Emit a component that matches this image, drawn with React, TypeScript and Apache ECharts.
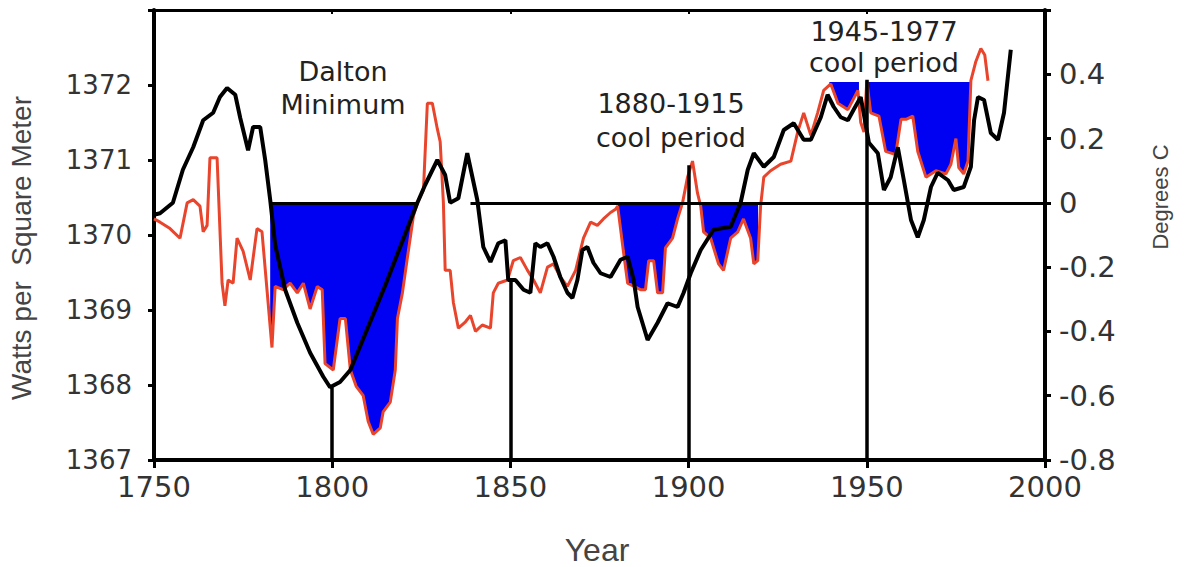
import React, { useEffect, useRef } from 'react';
import * as echarts from 'echarts';

// Red trace: Degrees C (right axis)
const redYears = [
  1750.0, 1751.7, 1754.5, 1757.3, 1759.3, 1761.0, 1762.9, 1763.8, 1764.9, 1765.7, 1767.7, 1769.1, 1769.9, 1770.8,
  1772.2, 1773.3, 1775.0, 1777.0, 1778.9, 1780.3, 1781.7, 1783.1, 1784.0, 1786.2, 1788.2, 1790.2, 1791.9, 1793.8,
  1795.8, 1797.2, 1798.0, 1800.3, 1802.2, 1803.7, 1805.1, 1806.7, 1808.7, 1810.1, 1811.5, 1813.5, 1814.3, 1816.3,
  1817.7, 1818.3, 1819.7, 1821.1, 1822.8, 1823.9, 1825.6, 1826.7, 1828.1, 1829.5, 1830.3, 1831.2, 1831.7, 1833.1,
  1834.0, 1835.4, 1837.4, 1838.8, 1840.2, 1842.1, 1844.4, 1845.2, 1846.6, 1849.2, 1850.8, 1852.8, 1854.8, 1856.5,
  1858.4, 1860.4, 1862.1, 1864.0, 1866.0, 1868.3, 1870.5, 1872.5, 1874.4, 1876.1, 1878.1, 1879.5, 1880.1, 1881.7,
  1882.9, 1886.5, 1887.9, 1888.8, 1890.2, 1891.3, 1892.7, 1893.5, 1895.5, 1896.9, 1898.3, 1899.7, 1901.1, 1902.5,
  1903.4, 1904.2, 1906.2, 1908.4, 1909.8, 1911.8, 1913.8, 1915.4, 1917.4, 1918.3, 1919.4, 1920.2, 1921.1, 1923.0,
  1925.8, 1928.7, 1930.6, 1932.3, 1934.3, 1936.2, 1937.9, 1939.9, 1941.9, 1944.7, 1947.5, 1948.3, 1949.2, 1950.0,
  1951.1, 1953.4, 1955.3, 1958.1, 1959.6, 1961.0, 1962.9, 1964.3, 1966.6, 1969.4, 1972.2, 1973.6, 1975.0, 1975.8,
  1977.2, 1978.4, 1979.2, 1980.6, 1982.0, 1983.1, 1984.0,
];
const redTemps = [
  -0.05, -0.06, -0.08, -0.11, 0.0, 0.01, -0.01, -0.09, -0.07, 0.14, 0.14, -0.25, -0.32, -0.24,
  -0.25, -0.11, -0.15, -0.24, -0.08, -0.09, -0.27, -0.45, -0.26, -0.27, -0.25, -0.28, -0.25, -0.33,
  -0.26, -0.27, -0.5, -0.52, -0.36, -0.36, -0.52, -0.57, -0.6, -0.68, -0.72, -0.7, -0.65, -0.62,
  -0.52, -0.36, -0.28, -0.17, -0.04, 0.0, 0.04, 0.31, 0.31, 0.23, 0.19, 0.0, -0.21, -0.21,
  -0.31, -0.39, -0.37, -0.35, -0.4, -0.38, -0.39, -0.28, -0.25, -0.24, -0.18, -0.17, -0.21, -0.24,
  -0.28, -0.2, -0.19, -0.23, -0.26, -0.21, -0.11, -0.06, -0.07, -0.05, -0.03, -0.02, -0.01, -0.15,
  -0.25, -0.27, -0.27, -0.18, -0.18, -0.28, -0.28, -0.14, -0.11, -0.05, 0.0, 0.08, 0.13, 0.03,
  -0.01, -0.09, -0.11, -0.19, -0.21, -0.11, -0.09, -0.05, -0.11, -0.19, -0.18, -0.01, 0.08, 0.1,
  0.12, 0.13, 0.22, 0.28, 0.21, 0.28, 0.35, 0.37, 0.31, 0.29, 0.35, 0.25, 0.22, 0.38,
  0.28, 0.27, 0.16, 0.15, 0.26, 0.26, 0.27, 0.16, 0.08, 0.1, 0.09, 0.12, 0.2, 0.11,
  0.09, 0.13, 0.38, 0.44, 0.48, 0.46, 0.38,
];

// Black trace: Watts per Square Meter (left axis)
const blackYears = [
  1750.0, 1751.7, 1755.3, 1758.1, 1761.0, 1763.8, 1766.6, 1768.5, 1770.5, 1772.8, 1774.2, 1776.4, 1777.8, 1779.8,
  1781.2, 1782.6, 1784.0, 1786.8, 1790.2, 1793.8, 1797.5, 1799.4, 1802.2, 1805.1, 1814.9, 1823.9, 1826.1, 1829.5,
  1831.7, 1833.1, 1835.4, 1837.9, 1840.7, 1842.4, 1844.4, 1846.6, 1848.6, 1849.4, 1851.4, 1853.7, 1855.6, 1857.0,
  1858.4, 1860.4, 1862.1, 1864.0, 1866.0, 1867.4, 1868.8, 1870.2, 1871.6, 1873.3, 1875.3, 1878.1, 1880.9, 1882.9,
  1884.6, 1885.7, 1888.5, 1891.3, 1894.1, 1896.9, 1898.6, 1900.6, 1903.4, 1907.0, 1911.8, 1914.6, 1916.6, 1918.3,
  1921.1, 1923.9, 1926.7, 1929.5, 1932.3, 1934.3, 1937.1, 1939.0, 1940.7, 1942.7, 1944.7, 1946.3, 1948.3, 1950.6,
  1953.1, 1954.8, 1956.7, 1958.7, 1960.4, 1962.4, 1964.3, 1966.0, 1968.0, 1969.9, 1972.8, 1974.4, 1977.2, 1979.2,
  1980.1, 1981.2, 1982.9, 1984.8, 1986.8, 1988.5, 1990.4,
];
const blackWatts = [
  1370.27, 1370.29, 1370.43, 1370.87, 1371.17, 1371.53, 1371.63, 1371.84, 1371.96, 1371.87, 1371.56, 1371.13, 1371.44, 1371.44,
  1371.0, 1370.47, 1369.87, 1369.27, 1368.83, 1368.43, 1368.11, 1367.97, 1368.04, 1368.2, 1369.33, 1370.43, 1370.67, 1371.0,
  1370.8, 1370.43, 1370.49, 1371.09, 1370.47, 1369.84, 1369.64, 1369.89, 1369.93, 1369.4, 1369.4, 1369.27, 1369.23, 1369.89,
  1369.84, 1369.89, 1369.71, 1369.44, 1369.23, 1369.16, 1369.4, 1369.8, 1369.84, 1369.63, 1369.49, 1369.44, 1369.67, 1369.71,
  1369.4, 1369.04, 1368.6, 1368.83, 1369.09, 1369.04, 1369.23, 1369.49, 1369.8, 1370.07, 1370.11, 1370.43, 1370.87, 1371.09,
  1370.91, 1371.04, 1371.4, 1371.49, 1371.27, 1371.27, 1371.57, 1371.87, 1371.71, 1371.57, 1371.53, 1371.67, 1371.84, 1371.23,
  1371.09, 1370.6, 1370.77, 1371.17, 1370.73, 1370.2, 1369.97, 1370.2, 1370.64, 1370.83, 1370.73, 1370.6, 1370.64, 1370.91,
  1371.53, 1371.84, 1371.8, 1371.36, 1371.27, 1371.63, 1372.47,
];

// Shaded cool periods: [start year, end year, reference level in Degrees C]
const coolPeriods = [
  [1782.6, 1823.9, 0],
  [1880.1, 1919.5, 0],
  [1939.5, 1947.8, 0.376],
  [1950.0, 1979.2, 0.376],
];
// Segments of the 0 °C reference line
const zeroSegments = [
  [1782.6, 1823.9],
  [1838.8, 2000],
];
// Vertical marker lines: year and the W/m² value they reach
const markerYears = [1800, 1850, 1900, 1950];
const markerTops = [1367.97, 1369.4, 1370.93, 1372.07];

const leftTicks = { min: 1367, max: 1373, interval: 1 };
const rightTicks = { min: -0.8, max: 0.6, interval: 0.2 };
const yearTicks = { min: 1750, max: 2000, interval: 50 };

function redAt(year: number): number {
  for (let i = 0; i < redYears.length - 1; i++) {
    if (year >= redYears[i] && year <= redYears[i + 1]) {
      const t = (year - redYears[i]) / (redYears[i + 1] - redYears[i]);
      return redTemps[i] + t * (redTemps[i + 1] - redTemps[i]);
    }
  }
  return redTemps[redTemps.length - 1];
}

export default function App() {
  const ref = useRef<HTMLDivElement>(null);
  useEffect(() => {
    if (!ref.current) return;
    const chart = echarts.init(ref.current, undefined, { renderer: 'svg' });
    const labelFont = 'DejaVu Sans';
    const nameFont = 'Liberation Sans';
    const option: any = {
      animation: false,
      backgroundColor: '#ffffff',
      grid: { left: 154, right: 148, top: 10, bottom: 107, containLabel: false },
      xAxis: [
        {
          type: 'value',
          position: 'bottom',
          min: yearTicks.min,
          max: yearTicks.max,
          interval: yearTicks.interval,
          splitLine: { show: false },
          axisLine: { show: true, onZero: false, lineStyle: { color: '#000', width: 4 } },
          axisTick: { show: true, length: 8, lineStyle: { color: '#000', width: 3 } },
          axisLabel: { color: '#333', fontFamily: labelFont, fontSize: 29, margin: 12, formatter: (v: number) => String(v) },
        },
        {
          type: 'value',
          position: 'top',
          min: yearTicks.min,
          max: yearTicks.max,
          interval: yearTicks.interval,
          splitLine: { show: false },
          axisLine: { show: true, onZero: false, lineStyle: { color: '#000', width: 3 } },
          axisTick: { show: true, inside: true, length: 4, lineStyle: { color: '#000', width: 2 } },
          axisLabel: { show: false },
        },
      ],
      yAxis: [
        {
          type: 'value',
          position: 'left',
          min: leftTicks.min,
          max: leftTicks.max,
          interval: leftTicks.interval,
          splitLine: { show: false },
          axisLine: { show: true, onZero: false, lineStyle: { color: '#000', width: 4 } },
          axisTick: { show: true, length: 6, lineStyle: { color: '#000', width: 3 } },
          axisLabel: {
            color: '#333',
            fontFamily: labelFont,
            fontSize: 26,
            margin: 22,
            formatter: (v: number) => (v >= leftTicks.max ? '' : String(v)),
          },
        },
        {
          type: 'value',
          position: 'right',
          min: rightTicks.min,
          max: rightTicks.max,
          interval: rightTicks.interval,
          splitLine: { show: false },
          axisLine: { show: true, onZero: false, lineStyle: { color: '#000', width: 4 } },
          axisTick: { show: true, length: 6, lineStyle: { color: '#000', width: 3 } },
          axisLabel: {
            color: '#333',
            fontFamily: labelFont,
            fontSize: 29,
            margin: 14,
            formatter: (v: number) => {
              if (v > rightTicks.max - 0.05) return '';
              if (Math.abs(v) < 1e-9) return '0';
              return v.toFixed(1);
            },
          },
        },
      ],
      series: [
        {
          type: 'custom',
          name: 'cool periods',
          xAxisIndex: 0,
          yAxisIndex: 1,
          z: 1,
          silent: true,
          data: coolPeriods.map((p) => [p[0], p[1], p[2]]),
          encode: { x: [0, 1], y: 2 },
          renderItem: (params: any, api: any) => {
            const [x0, x1, level] = coolPeriods[params.dataIndex];
            const pts: number[][] = [];
            pts.push(api.coord([x0, level]));
            pts.push(api.coord([x0, Math.min(redAt(x0), level)]));
            redYears.forEach((yr, i) => {
              if (yr > x0 && yr < x1) pts.push(api.coord([yr, Math.min(redTemps[i], level)]));
            });
            pts.push(api.coord([x1, Math.min(redAt(x1), level)]));
            pts.push(api.coord([x1, level]));
            return { type: 'polygon', shape: { points: pts }, style: { fill: '#0000f2', stroke: null } };
          },
        },
        {
          type: 'line',
          name: 'Degrees C',
          xAxisIndex: 0,
          yAxisIndex: 1,
          z: 2,
          symbol: 'none',
          data: redYears.map((yr, i) => [yr, redTemps[i]]),
          lineStyle: { color: '#e8452c', width: 3 },
          markLine: {
            silent: true,
            symbol: ['none', 'none'],
            label: { show: false },
            lineStyle: { color: '#000', width: 3, type: 'solid' },
            data: zeroSegments.map(([a, b]) => [{ coord: [a, 0] }, { coord: [b, 0] }]),
          },
        },
        {
          type: 'line',
          name: 'Watts per Square Meter',
          xAxisIndex: 0,
          yAxisIndex: 0,
          z: 3,
          symbol: 'none',
          data: blackYears.map((yr, i) => [yr, blackWatts[i]]),
          lineStyle: { color: '#000', width: 4 },
          markLine: {
            silent: true,
            symbol: ['none', 'none'],
            label: { show: false },
            lineStyle: { color: '#000', width: 3.5, type: 'solid' },
            data: markerYears.map((yr, i) => [{ coord: [yr, leftTicks.min] }, { coord: [yr, markerTops[i]] }]),
          },
        },
      ],
      graphic: [
        {
          type: 'text',
          x: 21,
          y: 248,
          rotation: Math.PI / 2,
          style: { text: 'Watts per  Square Meter', fontFamily: nameFont, fontSize: 28, fill: '#444', textAlign: 'center', textVerticalAlign: 'middle' },
        },
        {
          type: 'text',
          x: 1160,
          y: 197,
          rotation: Math.PI / 2,
          style: { text: 'Degrees C', fontFamily: nameFont, fontSize: 22, fill: '#444', textAlign: 'center', textVerticalAlign: 'middle' },
        },
        {
          type: 'text',
          x: 597,
          y: 550,
          style: { text: 'Year', fontFamily: nameFont, fontSize: 32, fill: '#444', textAlign: 'center', textVerticalAlign: 'middle' },
        },
        {
          type: 'text',
          x: 343,
          y: 55,
          style: { text: 'Dalton\nMinimum', fontFamily: labelFont, fontSize: 27, lineHeight: 33, fill: '#222', textAlign: 'center', textVerticalAlign: 'top' },
        },
        {
          type: 'text',
          x: 671,
          y: 86,
          style: { text: '1880-1915\ncool period', fontFamily: labelFont, fontSize: 27, lineHeight: 34, fill: '#222', textAlign: 'center', textVerticalAlign: 'top' },
        },
        {
          type: 'text',
          x: 884,
          y: 16,
          style: { text: '1945-1977\ncool period', fontFamily: labelFont, fontSize: 27, lineHeight: 31, fill: '#222', textAlign: 'center', textVerticalAlign: 'top' },
        },
      ],
    };
    chart.setOption(option);
    return () => chart.dispose();
  }, []);
  return <div ref={ref} style={{ position: 'absolute', left: 0, top: 0, width: 1193, height: 567 }} />;
}
